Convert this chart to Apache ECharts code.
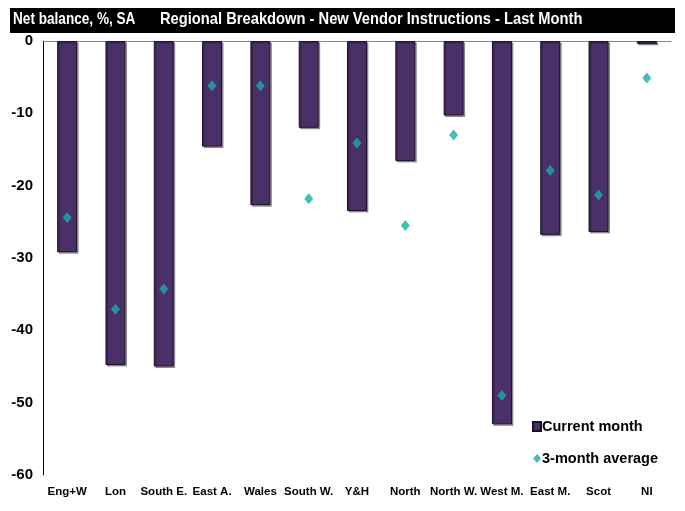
<!DOCTYPE html>
<html><head><meta charset="utf-8">
<script src="https://cdn.jsdelivr.net/npm/echarts@6/dist/echarts.min.js"></script>
<style>html,body{margin:0;padding:0;background:#fff}#c{width:685px;height:511px}</style>
</head><body><div id="c"></div>
<script>
const categories = ['Eng+W','Lon','South E.','East A.','Wales','South W.','Y&H','North','North W.','West M.','East M.','Scot','NI'];
const currentMonth = [-29.2,-44.8,-45.0,-14.6,-22.7,-12.0,-23.5,-16.6,-10.3,-53.0,-26.8,-26.4,-0.4];
const threeMonthAvg = [-24.4,-37.1,-34.3,-6.2,-6.2,-21.8,-14.1,-25.5,-13.0,-49.0,-17.9,-21.3,-5.1];
const yTicks = [0,-10,-20,-30,-40,-50,-60];

const FONT = '"Liberation Sans",Arial,sans-serif';
const chart = echarts.init(document.getElementById('c'), null, {renderer:'canvas'});
chart.setOption({
  animation:false,
  backgroundColor:'#fff',
  graphic:[
    {type:'rect', left:10, top:8, shape:{width:665, height:25}, style:{fill:'#000'}},
    {type:'text', x:13, y:11, scaleX:0.8, style:{text:'Net balance, %, SA', fill:'#fff', font:'bold 17px '+FONT}},
    {type:'text', x:160, y:11, scaleX:0.865, style:{text:'Regional Breakdown - New Vendor Instructions - Last Month', fill:'#fff', font:'bold 17px '+FONT}}
  ],
  grid:{left:43, right:14, top:41, bottom:36, containLabel:false},
  legend:{
    orient:'vertical', left:527, top:414, itemGap:17, itemWidth:8, itemHeight:9,
    textStyle:{fontFamily:FONT, fontWeight:'bold', fontSize:14.5, color:'#000', padding:[0,0,0,-4]},
    data:[{name:'Current month', icon:'rect'},{name:'3-month average', icon:'diamond'}]
  },
  xAxis:[
    {type:'category', data:categories, position:'top',
      axisLine:{show:true, onZero:true, lineStyle:{color:'#888', width:1}},
      axisTick:{show:false}, axisLabel:{show:false}},
    {type:'category', data:categories, position:'bottom', gridIndex:0,
      axisLine:{show:false}, axisTick:{show:false},
      axisLabel:{fontFamily:FONT, fontWeight:'bold', fontSize:11.5, color:'#000', margin:11, interval:0}}
  ],
  yAxis:{
    type:'value', min:-60, max:0, interval:10,
    axisLine:{show:true, lineStyle:{color:'#000', width:1}},
    axisTick:{show:false},
    splitLine:{show:false},
    axisLabel:{fontFamily:FONT, fontWeight:'bold', fontSize:15, color:'#000', margin:10,
      formatter:v=>yTicks.includes(v)?String(v):''}
  },
  series:[
    {name:'Current month', type:'bar', xAxisIndex:0, data:currentMonth, barWidth:20,
      itemStyle:{color:'#4b3068', borderColor:'#1c0f2c', borderWidth:1,
        shadowColor:'rgba(0,0,0,0.35)', shadowOffsetX:1.5, shadowOffsetY:1.5}},
    {name:'3-month average', type:'scatter', xAxisIndex:0, data:threeMonthAvg, symbol:'diamond', symbolSize:[9,11],
      itemStyle:{color:'#16aca5'}, z:5}
  ]
});
</script></body></html>
